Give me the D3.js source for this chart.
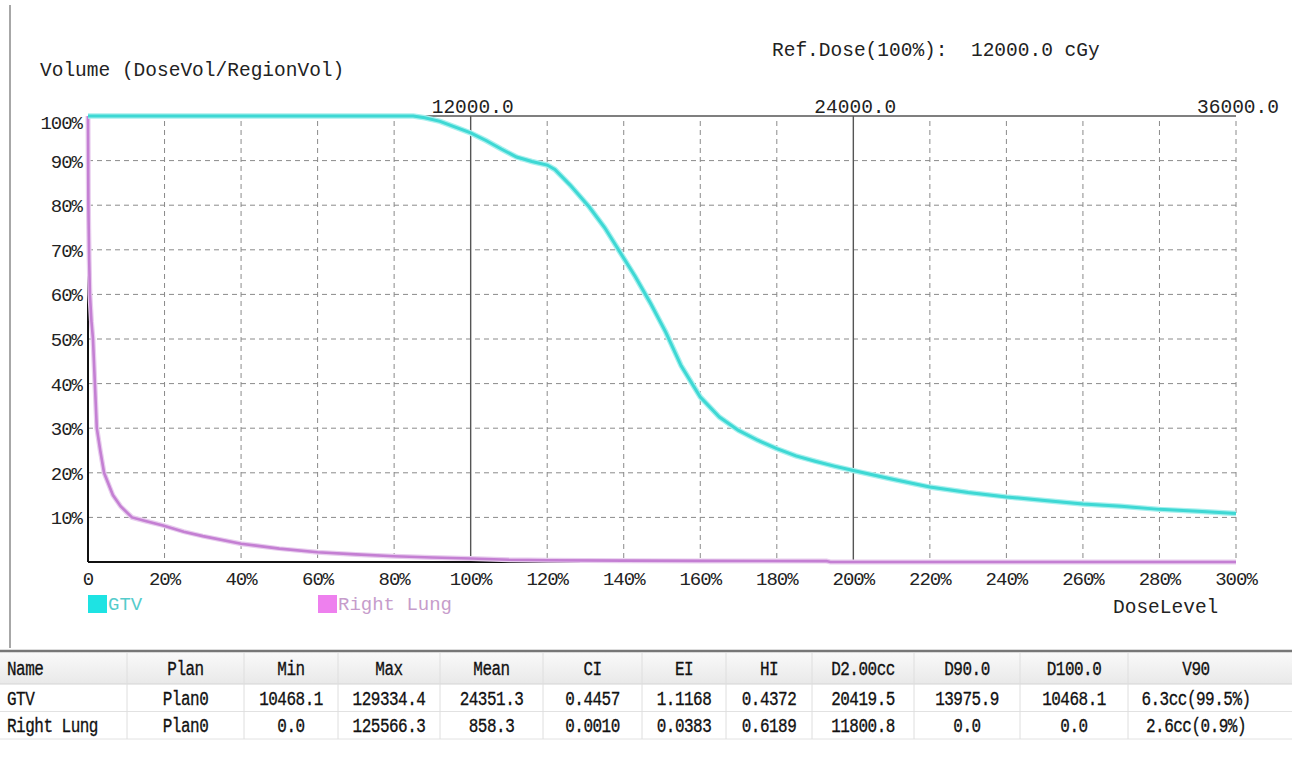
<!DOCTYPE html>
<html><head><meta charset="utf-8">
<script src="https://cdn.jsdelivr.net/npm/d3@7"></script>
<style>
html,body{margin:0;padding:0;background:#fff;}
svg{display:block;}
text{font-family:"Liberation Mono","DejaVu Sans Mono",monospace;}
</style></head>
<body>
<svg id="c" width="1292" height="763"></svg>
<script>
// ---------- data ----------
const refDose = 12000;
const topTicks = [12000, 24000, 36000];
const xTicks = [0,20,40,60,80,100,120,140,160,180,200,220,240,260,280,300];
const yTicks = [10,20,30,40,50,60,70,80,90,100];
const gtvDose = [0,20,40,60,80,85,88,92,96,100,104,108,112,116,120,122,126,131,135,139,143,147,151,155,160,165,170,175,180,185,190,195,200,210,220,230,240,250,260,270,280,290,300];
const gtvVol  = [100,100,100,100,100,100,99.6,98.8,97.5,96.2,94.5,92.6,90.8,89.8,89,88,84.5,79.6,75,69.5,64,58,51.5,44,37,32.5,29.5,27.3,25.4,23.8,22.6,21.5,20.5,18.6,16.8,15.6,14.6,13.8,13,12.5,11.8,11.4,10.9];
const lungDose = [0,0.1,0.3,0.5,0.9,1.3,1.8,2.3,3.2,4.2,6.5,8.5,11.5,15,19.6,25,30,40,50,60,70,80,90,100,110,120,140,160,193,194,300];
const lungVol  = [100,80,68,60,54,50,40,30,25,20,15,12.5,10,9.2,8.2,6.8,5.8,4.1,3.0,2.2,1.7,1.3,1.0,0.8,0.5,0.4,0.3,0.25,0.2,0,0];
const legendNames = ["GTV","Right Lung"];
const legendColors = ["#1EE3E3","#EE80EE"];
const legendTextColors = ["#55CCCC","#C69CCB"];
const tableCols = ["Name","Plan","Min","Max","Mean","CI","EI","HI","D2.00cc","D90.0","D100.0","V90"];
const rowGTV  = ["GTV","Plan0","10468.1","129334.4","24351.3","0.4457","1.1168","0.4372","20419.5","13975.9","10468.1","6.3cc(99.5%)"];
const rowLung = ["Right Lung","Plan0","0.0","125566.3","858.3","0.0010","0.0383","0.6189","11800.8","0.0","0.0","2.6cc(0.9%)"];
const colEdges = [0,127,244,338,440,543,642,726,812,914,1020,1128,1264];

// ---------- layout ----------
const svg = d3.select("#c");
const x = d3.scaleLinear().domain([0,300]).range([88,1236]);
const y = d3.scaleLinear().domain([0,100]).range([562,116]);
const gridCol = "#8a8a8a";

// left frame line
svg.append("line").attr("x1",10).attr("x2",10).attr("y1",5).attr("y2",648)
  .attr("stroke","#8a8a8a").attr("stroke-width",1.5);

// titles
svg.append("text").attr("x",40).attr("y",76).attr("font-size",19.5).attr("fill","#222")
  .text("Volume (DoseVol/RegionVol)");
svg.append("text").attr("x",772).attr("y",56).attr("font-size",19.5).attr("fill","#222")
  .attr("xml:space","preserve").text("Ref.Dose(100%):  " + refDose.toFixed(1) + " cGy");

// horizontal dashed grid
svg.append("g").selectAll("line").data(yTicks.filter(d=>d<100)).join("line")
  .attr("x1",x(0)).attr("x2",x(300)).attr("y1",d=>y(d)).attr("y2",d=>y(d))
  .attr("stroke",gridCol).attr("stroke-width",1).attr("stroke-dasharray","5,4");
// vertical dashed grid
svg.append("g").selectAll("line").data(xTicks.filter(d=>d>0 && d!==100 && d!==200)).join("line")
  .attr("x1",d=>x(d)).attr("x2",d=>x(d)).attr("y1",y(100)+5).attr("y2",y(0))
  .attr("stroke",gridCol).attr("stroke-width",1).attr("stroke-dasharray","5,4");
// solid ref-dose lines
svg.append("g").selectAll("line").data(topTicks.slice(0,2)).join("line")
  .attr("x1",d=>x(d/refDose*100)).attr("x2",d=>x(d/refDose*100)).attr("y1",y(100)).attr("y2",y(0))
  .attr("stroke","#555").attr("stroke-width",1.4);
// axes
svg.append("line").attr("x1",x(0)).attr("x2",x(300)).attr("y1",y(100)).attr("y2",y(100)).attr("stroke","#555").attr("stroke-width",1.4);
svg.append("line").attr("x1",x(0)).attr("x2",x(300)).attr("y1",y(0)).attr("y2",y(0)).attr("stroke","#111").attr("stroke-width",2);
svg.append("line").attr("x1",x(0)).attr("x2",x(0)).attr("y1",y(100)).attr("y2",y(0)).attr("stroke","#111").attr("stroke-width",2);

// top dose labels
svg.append("g").selectAll("text").data(topTicks).join("text")
  .attr("x",d=>x(d/refDose*100)+2).attr("y",y(100)-3).attr("text-anchor","middle")
  .attr("font-size",19.5).attr("fill","#222").text(d=>d.toFixed(1));

// y labels
svg.append("g").selectAll("text").data(yTicks).join("text")
  .attr("x",82).attr("y",d=>y(d)+(d===100?13:7)).attr("text-anchor","end")
  .attr("font-size",19).attr("fill","#222").attr("letter-spacing",-1).text(d=>d+"%");
// x labels
svg.append("g").selectAll("text").data(xTicks).join("text")
  .attr("x",d=>x(d)).attr("y",585).attr("text-anchor","middle")
  .attr("font-size",19).attr("fill","#222").attr("letter-spacing",-1).text(d=>d===0?"0":d+"%");
svg.append("text").attr("x",1113).attr("y",613).attr("font-size",19.5).attr("fill","#222").text("DoseLevel");

// curves
const line = d3.line().x(d=>x(d[0])).y(d=>y(d[1]));
const gtv = gtvDose.map((d,i)=>[d,gtvVol[i]]);
const lung = lungDose.map((d,i)=>[d,lungVol[i]]);
svg.append("path").datum(lung).attr("d",line).attr("fill","none").attr("stroke","#E8CDEE").attr("stroke-width",5);
svg.append("path").datum(lung).attr("d",line).attr("fill","none").attr("stroke","#C47FD3").attr("stroke-width",2.6);
svg.append("path").datum(gtv).attr("d",line).attr("fill","none").attr("stroke","#A8F0EE").attr("stroke-width",5.5);
svg.append("path").datum(gtv).attr("d",line).attr("fill","none").attr("stroke","#3ED8D4").attr("stroke-width",3);

// legend
const legX = [88, 318];
const lg = svg.append("g").selectAll("g").data(legendNames).join("g")
  .attr("transform",(d,i)=>`translate(${legX[i]},595)`);
lg.append("rect").attr("width",19).attr("height",18).attr("fill",(d,i)=>legendColors[i]);
lg.append("text").attr("x",20).attr("y",15).attr("font-size",19).attr("fill",(d,i)=>legendTextColors[i]).text(d=>d);

// ---------- table ----------
const tTop = 651, hH = 33, rH = 27.5;
const tb = svg.append("g");
const grad = svg.append("defs").append("linearGradient").attr("id","hg").attr("x1",0).attr("x2",0).attr("y1",0).attr("y2",1);
grad.append("stop").attr("offset","0%").attr("stop-color","#fafafa");
grad.append("stop").attr("offset","100%").attr("stop-color","#e9e9e9");
tb.append("rect").attr("x",0).attr("y",tTop).attr("width",1292).attr("height",hH).attr("fill","url(#hg)");
tb.append("line").attr("x1",0).attr("x2",1292).attr("y1",tTop).attr("y2",tTop).attr("stroke","#777").attr("stroke-width",2.5);
tb.append("line").attr("x1",0).attr("x2",1292).attr("y1",tTop+hH).attr("y2",tTop+hH).attr("stroke","#d4d4d4");
tb.append("line").attr("x1",0).attr("x2",1292).attr("y1",tTop+hH+rH).attr("y2",tTop+hH+rH).attr("stroke","#e2e2e2");
tb.append("line").attr("x1",0).attr("x2",1292).attr("y1",tTop+hH+2*rH).attr("y2",tTop+hH+2*rH).attr("stroke","#e2e2e2");
tb.append("g").selectAll("line").data(colEdges.slice(1,-1)).join("line")
  .attr("x1",d=>d).attr("x2",d=>d).attr("y1",tTop+2).attr("y2",tTop+hH+2*rH)
  .attr("stroke","#dedede");
const rows = [tableCols,rowGTV,rowLung];
rows.forEach((r,ri)=>{
  const cy = ri===0 ? tTop+hH/2 : tTop+hH+rH*(ri-1)+rH/2;
  tb.append("g").selectAll("text").data(r).join("text")
    .attr("transform",(d,i)=>{
      const cx = i===0 ? 7 : (colEdges[i]+colEdges[i+1])/2;
      return `translate(${cx},${cy+7}) scale(1,1.3)`;})
    .attr("text-anchor",(d,i)=>i===0?"start":"middle")
    .attr("font-size",16).attr("fill","#111").attr("stroke","#111").attr("stroke-width",0.25)
    .attr("letter-spacing",-0.5)
    .text(d=>d);
});
</script>
</body></html>
